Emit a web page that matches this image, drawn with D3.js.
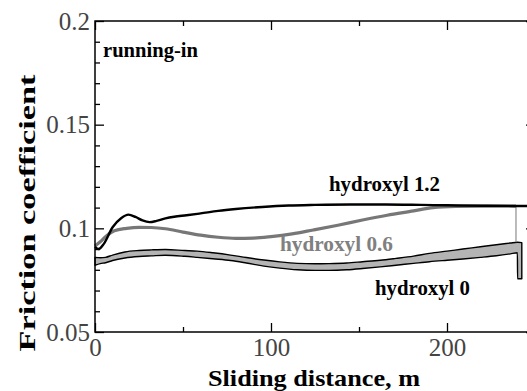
<!DOCTYPE html>
<html>
<head>
<meta charset="utf-8">
<script src="https://cdn.jsdelivr.net/npm/d3@7"></script>
</head>
<body style="margin:0">
<svg id="chart" width="527" height="391"></svg>
<script>
// ---- data ----
const xDomain = [0, 250];
const yDomain = [0.05, 0.2];
const xMajorTicks = [0, 100, 200];
const xMinorTicks = [50, 150, 250];
const yMajorTicks = [0.05, 0.1, 0.15, 0.2];
const yTickLabels = ["0.05", "0.1", "0.15", "0.2"];
const yMinorTicks = [0.06, 0.07, 0.08, 0.09, 0.11, 0.12, 0.13, 0.14, 0.16, 0.17, 0.18, 0.19];

// hydroxyl 1.2 : [distance m, friction]
const hydroxyl12 = [[0,0.0911],[2,0.0900],[5,0.0925],[10,0.1005],[15,0.1050],[19,0.1066],[23,0.1055],[27,0.1038],[31,0.1030],[35,0.1036],[40,0.1048],[45,0.1056],[52,0.1063],[60,0.1072],[70,0.1084],[80,0.1093],[95,0.1103],[110,0.1110],[125,0.1113],[145,0.1115],[165,0.1115],[185,0.1113],[200,0.1111],[220,0.1109],[238,0.1108],[250,0.1108]];

// hydroxyl 0.6
const hydroxyl06 = [[0,0.0915],[3,0.0935],[6,0.0960],[11,0.0988],[18,0.1000],[25,0.1005],[32,0.1004],[40,0.0998],[50,0.0982],[60,0.0967],[70,0.0957],[80,0.0952],[90,0.0953],[100,0.0960],[112,0.0973],[124,0.0992],[138,0.1015],[152,0.1040],[166,0.1063],[181,0.1084],[192,0.1100],[205,0.1106],[220,0.1107],[239.2,0.1107]];
const hydroxyl06Drop = [[239.2,0.1107],[239.2,0.0933]];

// hydroxyl 0 : band (upper / lower envelope)
const h0Dist  = [0, 3, 6, 10, 17, 25, 32, 40, 51, 58, 67, 77, 86, 96, 105, 115, 125, 133, 143, 152, 162, 171, 181, 190, 200, 209, 219, 228, 236, 240, 240.1, 242.5];
const h0Upper = [0.0860,0.0858,0.0860,0.0871,0.0886,0.0893,0.0896,0.0898,0.0893,0.0890,0.0882,0.0871,0.0859,0.0847,0.0838,0.0831,0.0829,0.0830,0.0833,0.0839,0.0846,0.0855,0.0866,0.0879,0.0890,0.0900,0.0911,0.0921,0.0929,0.0933,0.0933,0.0931];
const h0Lower = [0.0822,0.0830,0.0834,0.0845,0.0857,0.0864,0.0867,0.0870,0.0865,0.0860,0.0853,0.0845,0.0833,0.0818,0.0808,0.0800,0.0797,0.0797,0.0800,0.0806,0.0814,0.0822,0.0831,0.0839,0.0846,0.0852,0.0860,0.0868,0.0877,0.0882,0.0757,0.0757];

// ---- layout ----
const svg = d3.select("#chart");
const mLeft = 95, mRight = 535, mTop = 21, mBottom = 332;
const x = d3.scaleLinear().domain(xDomain).range([mLeft, mRight]);
const y = d3.scaleLinear().domain(yDomain).range([mBottom, mTop]);

// ---- series ----
const band = h0Dist.map((d, i) => ({d, hi: h0Upper[i], lo: h0Lower[i]}));
svg.append("path")
  .datum(band)
  .attr("d", d3.area().x(p => x(p.d)).y0(p => y(p.lo)).y1(p => y(p.hi)).curve(d3.curveMonotoneX))
  .attr("fill", "#b4b4b4")
  .attr("stroke", "#000")
  .attr("stroke-width", 1.4)
  .attr("stroke-linejoin", "round");

const line = d3.line().x(p => x(p[0])).y(p => y(p[1])).curve(d3.curveMonotoneX);

svg.append("path").datum(hydroxyl06).attr("d", line)
  .attr("fill", "none").attr("stroke", "#777").attr("stroke-width", 3.2);
svg.append("path").datum(hydroxyl06Drop).attr("d", d3.line().x(p => x(p[0])).y(p => y(p[1])))
  .attr("fill", "none").attr("stroke", "#777").attr("stroke-width", 1);

svg.append("path").datum(hydroxyl12).attr("d", line)
  .attr("fill", "none").attr("stroke", "#000").attr("stroke-width", 2.4);

// ---- axes (inward ticks) ----
function styleAxis(g) {
  g.attr("font-family", null).attr("font-size", null);
  g.select(".domain").remove();
  g.selectAll(".tick line").attr("stroke", "#000").attr("stroke-width", 1.3);
  g.selectAll("text").attr("font-size", 25).attr("fill", "#444")
    .style("font-family", "Liberation Serif");
}
svg.append("g").attr("transform", `translate(0,${mBottom})`)
  .call(d3.axisBottom(x).tickValues(xMajorTicks).tickSize(-9).tickPadding(6).tickFormat(d3.format("d")))
  .call(styleAxis);
svg.append("g").attr("transform", `translate(0,${mBottom})`)
  .call(d3.axisBottom(x).tickValues(xMinorTicks).tickSize(-5).tickFormat(""))
  .call(styleAxis);
svg.append("g").attr("transform", `translate(0,${mTop})`)
  .call(d3.axisTop(x).tickValues(xMajorTicks).tickSize(-9).tickFormat(""))
  .call(styleAxis);
svg.append("g").attr("transform", `translate(0,${mTop})`)
  .call(d3.axisTop(x).tickValues(xMinorTicks).tickSize(-5).tickFormat(""))
  .call(styleAxis);

svg.append("g").attr("transform", `translate(${mLeft},0)`)
  .call(d3.axisLeft(y).tickValues(yMajorTicks).tickSize(-9).tickPadding(5)
        .tickFormat((d, i) => yTickLabels[i]))
  .call(styleAxis);
svg.append("g").attr("transform", `translate(${mLeft},0)`)
  .call(d3.axisLeft(y).tickValues(yMinorTicks).tickSize(-5).tickFormat(""))
  .call(styleAxis);
svg.append("g").attr("transform", `translate(${mRight},0)`)
  .call(d3.axisRight(y).tickValues(yMajorTicks).tickSize(-9).tickFormat(""))
  .call(styleAxis);
svg.append("g").attr("transform", `translate(${mRight},0)`)
  .call(d3.axisRight(y).tickValues(yMinorTicks).tickSize(-5).tickFormat(""))
  .call(styleAxis);

// frame
svg.append("rect")
  .attr("x", mLeft).attr("y", mTop).attr("width", mRight - mLeft).attr("height", mBottom - mTop)
  .attr("fill", "none").attr("stroke", "#000").attr("stroke-width", 1.5);

// ---- labels ----
svg.append("text")
  .attr("x", (mLeft + mRight) / 2 - 1).attr("y", 386)
  .attr("text-anchor", "middle")
  .attr("font-size", 24).attr("font-weight", "bold")
  .style("font-family", "Liberation Serif")
  .attr("textLength", 212).attr("lengthAdjust", "spacingAndGlyphs")
  .text("Sliding distance, m");

svg.append("text")
  .attr("transform", "translate(35,213) rotate(-90)")
  .attr("text-anchor", "middle")
  .attr("font-size", 24).attr("font-weight", "bold")
  .style("font-family", "Liberation Serif")
  .attr("textLength", 277).attr("lengthAdjust", "spacingAndGlyphs")
  .text("Friction coefficient");

const annotations = [
  {t: "running-in",   x: 103, y: 56.5, w: 95,  size: 20, fill: "#000"},
  {t: "hydroxyl 1.2", x: 329, y: 190.5, w: 111, size: 22, fill: "#000"},
  {t: "hydroxyl 0.6", x: 280, y: 251,  w: 113, size: 21, fill: "#808080"},
  {t: "hydroxyl 0",   x: 375, y: 295,  w: 95,  size: 21, fill: "#000"}
];
svg.selectAll("text.ann").data(annotations).enter().append("text")
  .attr("class", "ann")
  .attr("x", a => a.x).attr("y", a => a.y)
  .attr("font-size", a => a.size).attr("font-weight", "bold")
  .style("font-family", "Liberation Serif")
  .attr("fill", a => a.fill)
  .attr("textLength", a => a.w).attr("lengthAdjust", "spacingAndGlyphs")
  .text(a => a.t);
</script>
</body>
</html>
